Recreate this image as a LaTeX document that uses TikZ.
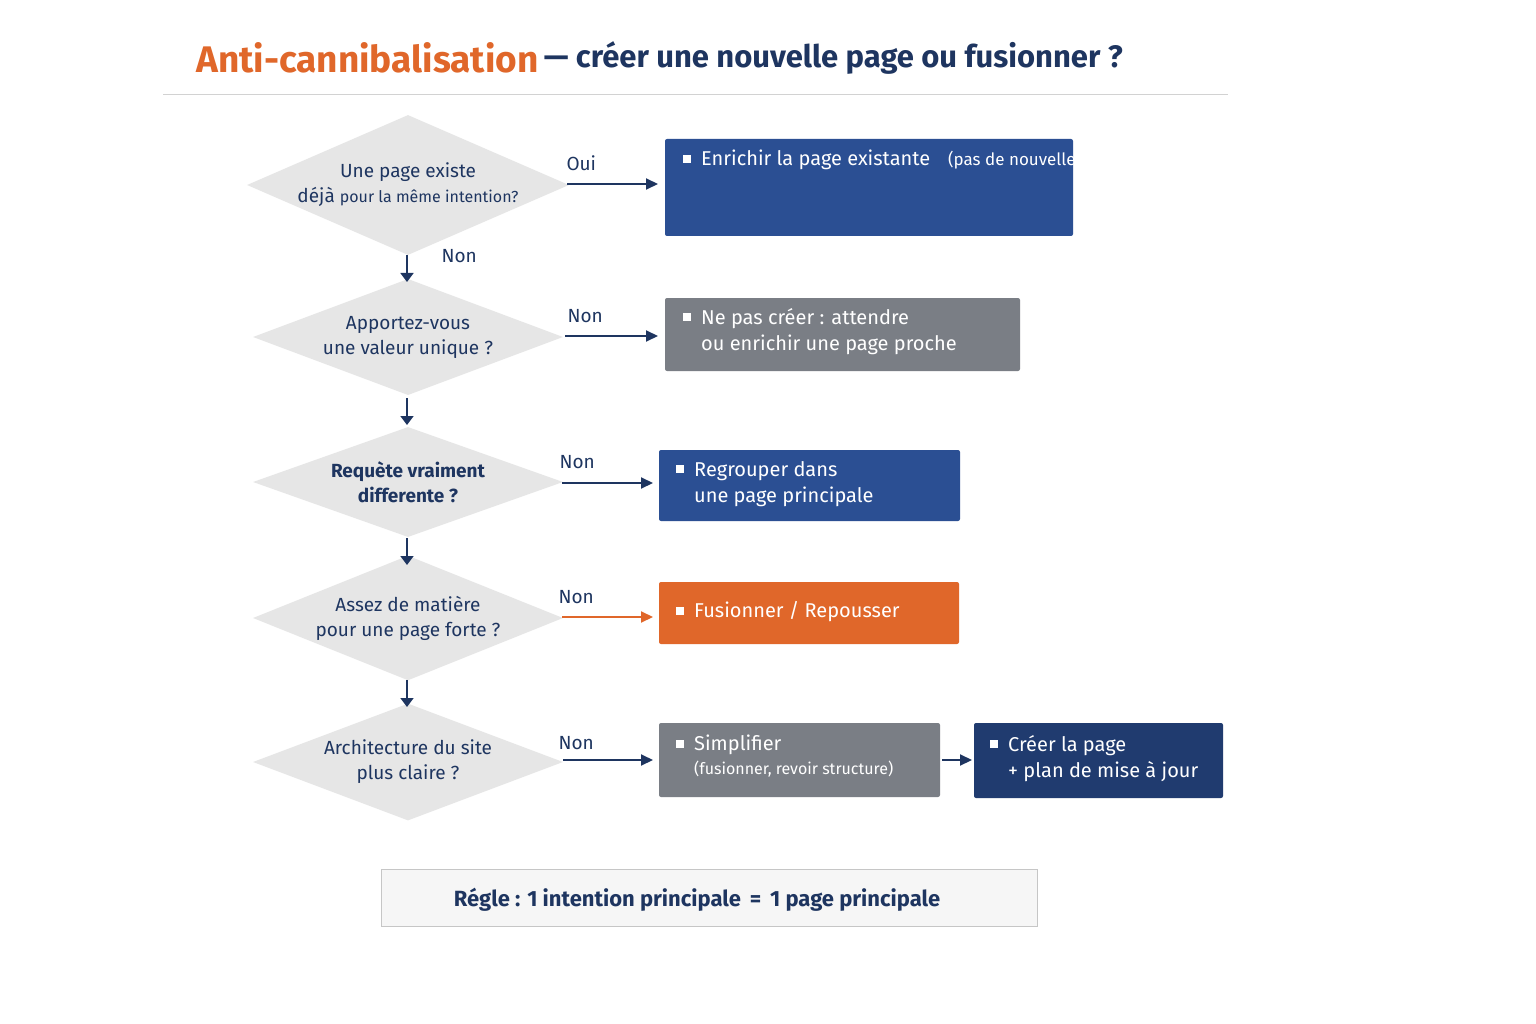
\documentclass[tikz,border=0pt]{standalone}
\usepackage{fontspec}
\setmainfont{Fira Sans}
\usetikzlibrary{shapes.geometric,arrows.meta}
\definecolor{navy}{HTML}{1E3560}
\definecolor{blu}{HTML}{2B4F93}
\definecolor{gry}{HTML}{7A7E85}
\definecolor{org}{HTML}{E0672A}
\definecolor{dnavy}{HTML}{203B6F}
\definecolor{dia}{HTML}{E6E6E6}
\newcommand{\bq}{\rule[0.15em]{0.4em}{0.4em}\hspace{0.5em}}
\begin{document}
\begin{tikzpicture}[x=1pt,y=-1pt,
  dnode/.style={diamond,fill=dia,minimum width=310pt,minimum height=135pt,aspect=2.3,inner sep=0pt,text=navy,font=\fontsize{19}{25}\selectfont,align=center},
  box/.style={anchor=north west,inner sep=0pt,text=white,font=\fontsize{20}{26}\selectfont,rounded corners=2pt},
  arr/.style={-{Triangle[length=12pt,width=11pt]},line width=2pt,draw=navy},
  lab/.style={text=navy,font=\fontsize{19}{23}\selectfont}]
\useasboundingbox[fill=white] (0,0) rectangle (1536,1024);
\node[anchor=west,font=\fontsize{37}{42}\selectfont\bfseries,text=org,inner sep=0] (t1) at (196,58) {Anti-cannibalisation};
\node[anchor=west,font=\fontsize{31}{36}\selectfont\bfseries,text=navy,inner sep=0] (t2) at (t1.east) {\,— créer une nouvelle page ou fusionner ?};
\draw[gray!35,line width=1pt] (163,95) -- (1228,95);
% diamonds
\node[dnode,minimum height=135pt] (d1) at (408,185) {Une page existe\\déjà {\fontsize{16}{22}\selectfont pour la même intention?}};
\node[dnode,minimum height=115pt] (d2) at (408,337) {Apportez-vous\\une valeur unique ?};
\node[dnode,minimum height=110pt,font=\fontsize{19}{25}\selectfont\bfseries] (d3) at (408,482) {Requète vraiment\\differente ?};
\node[dnode,minimum height=108pt] (d4) at (408,618) {Assez de matière\\pour une page forte ?};
\node[dnode,minimum height=115pt] (d5) at (408,762) {Architecture du site\\plus claire ?};
% down arrows
\foreach \a/\b/\y in {d1/d2/255,d2/d3/398,d3/d4/538,d4/d5/680}{
  \coordinate (s\a) at (407,\y);
  \coordinate (e\a) at (407,\y+27);
  \draw[-{Triangle[length=9pt,width=13pt]},line width=1.8pt,draw=navy] (s\a) -- (e\a);}
\node[lab,anchor=west] (n1) at (438,256) {Non};
% boxes
\fill[blu,rounded corners=2pt] (665,139) rectangle (1073,236);
\node[box] (b1) at (683,150) {\bq Enrichir la page existante\\[-2pt]\hspace*{18pt}{\fontsize{17}{22}\selectfont (pas de nouvelle URL)}\\[2pt]{\fontsize{17}{22}\selectfont\bq Ajouter sections / preuves / FAQ utile}};
\fill[gry,rounded corners=2pt] (665,298) rectangle (1020,371);
\node[box,align=left] (b2) at (683,308) {\bq Ne pas créer : attendre\\\hspace*{18pt}ou enrichir une page proche};
\fill[blu,rounded corners=2pt] (659,450) rectangle (960,521);
\node[box,align=left] (b3) at (676,461) {\bq Regrouper dans\\\hspace*{18pt}une page principale};
\fill[org,rounded corners=2pt] (659,582) rectangle (959,644);
\node[box,anchor=west] (b4) at (676,612) {\bq Fusionner / Repousser};
\fill[gry,rounded corners=2pt] (659,723) rectangle (940,797);
\node[box,align=left] (b5) at (676,735) {\bq Simplifier\\[-2pt]\hspace*{18pt}{\fontsize{16}{22}\selectfont (fusionner, revoir structure)}};
\fill[dnavy,rounded corners=2pt] (974,723) rectangle (1223,798);
\node[box,align=left] (b6) at (990,735) {\bq Créer la page\\\hspace*{18pt}+ plan de mise à jour};
% right arrows
\coordinate (r1s) at (567,184); \coordinate (r1e) at (658,184);
\coordinate (r2s) at (565,336); \coordinate (r2e) at (658,336);
\coordinate (r3s) at (562,483); \coordinate (r3e) at (653,483);
\coordinate (r4s) at (562,617); \coordinate (r4e) at (653,617);
\coordinate (r5s) at (563,760); \coordinate (r5e) at (653,760);
\coordinate (r6s) at (942,760); \coordinate (r6e) at (972,760);
\draw[arr] (r1s) -- (r1e); \draw[arr] (r2s) -- (r2e); \draw[arr] (r3s) -- (r3e);
\draw[arr,draw=org] (r4s) -- (r4e); \draw[arr] (r5s) -- (r5e); \draw[arr] (r6s) -- (r6e);
\node[lab,anchor=west] (o1) at (563,163) {Oui};
\node[lab,anchor=west] (o2) at (564,316) {Non};
\node[lab,anchor=west] (o3) at (556,462) {Non};
\node[lab,anchor=west] (o4) at (555,597) {Non};
\node[lab,anchor=west] (o5) at (555,743) {Non};
% rule
\draw[fill=gray!7,draw=gray!45,line width=1pt] (381,869) rectangle (1037,926);
\node[text=navy,font=\fontsize{22}{26}\selectfont\bfseries] (rule) at (697,900) {Régle : 1 intention principale \,=\, 1 page principale};
\end{tikzpicture}
\end{document}
